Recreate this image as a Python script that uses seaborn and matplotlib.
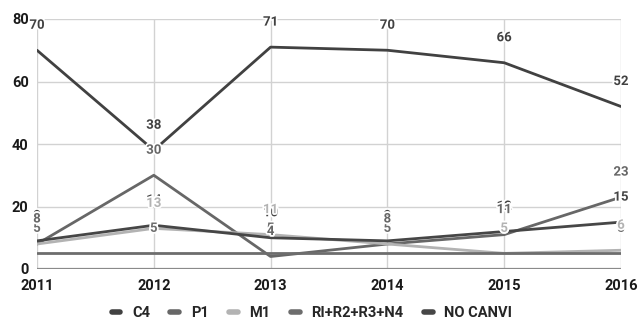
import matplotlib
matplotlib.use("Agg")
import matplotlib.pyplot as plt
from matplotlib.lines import Line2D
import matplotlib.patheffects as pe
import pandas as pd
import seaborn as sns

years = [2011, 2012, 2013, 2014, 2015, 2016]
series_names = ["C4", "P1", "M1", "RI+R2+R3+N4", "NO CANVI"]
c4 = [70, 38, 71, 70, 66, 52]
p1 = [8, 30, 4, 8, 11, 23]
m1 = [8, 13, 11, 8, 5, 6]
ri_r2_r3_n4 = [5, 5, 5, 5, 5, 5]
no_canvi = [9, 14, 10, 9, 12, 15]
y_ticks = [0, 20, 40, 60, 80]

colors = {
    "C4": "#414141",
    "P1": "#676767",
    "M1": "#b3b3b3",
    "RI+R2+R3+N4": "#6d6d6d",
    "NO CANVI": "#464646",
}

values = {
    "C4": c4,
    "P1": p1,
    "M1": m1,
    "RI+R2+R3+N4": ri_r2_r3_n4,
    "NO CANVI": no_canvi,
}
df = pd.DataFrame(
    [(y, name, v) for name in series_names for y, v in zip(years, values[name])],
    columns=["year", "serie", "value"],
)

sns.set_theme(style="white")
plt.rcParams["font.family"] = ["Roboto", "DejaVu Sans"]

fig = plt.figure(figsize=(6.41, 3.27), dpi=100)
ax = fig.add_axes([37 / 641, 1 - 269 / 327, (621 - 37) / 641, (269 - 19) / 327])

sns.lineplot(data=df, x="year", y="value", hue="serie", hue_order=series_names,
             palette=colors, linewidth=2, legend=False, ax=ax,
             sort=False, estimator=None, zorder=3)

# value labels above each point, with a white halo; the last series is drawn first
halo = [pe.withStroke(linewidth=2.5, foreground="white")]
for name in reversed(series_names):
    for y, v in zip(years, values[name]):
        ax.annotate(str(v), (y, v), xytext=(0, 18), textcoords="offset points",
                    ha="center", va="center", fontsize=9.5, fontweight="bold",
                    color=colors[name], zorder=4, annotation_clip=False,
                    path_effects=halo)

ax.set_xlim(years[0], years[-1])
ax.set_ylim(y_ticks[0], y_ticks[-1])
ax.set_xticks(years)
ax.set_yticks(y_ticks)
ax.set_xticklabels([str(y) for y in years], fontsize=10.5, fontweight="bold", color="#1a1a1a")
ax.set_yticklabels([str(t) for t in y_ticks], fontsize=10.5, fontweight="bold", color="#1a1a1a")
ax.tick_params(axis="both", length=0)
ax.tick_params(axis="x", pad=7)
ax.tick_params(axis="y", pad=6)
ax.set_xlabel("")
ax.set_ylabel("")
ax.grid(True, color="#d2d2d2", linewidth=1)
ax.axhline(0, color="#8a8a8a", linewidth=1.6, zorder=2)
for s in ax.spines.values():
    s.set_visible(False)

handles = [Line2D([0], [0], color=colors[n], linewidth=4, solid_capstyle="round")
           for n in series_names]
fig.legend(handles, series_names, loc="center", bbox_to_anchor=(312 / 641, 1 - 313 / 327),
           ncol=5, frameon=False, handlelength=0.6, handletextpad=0.8, columnspacing=1.4,
           prop={"weight": "bold", "size": 10.5})

fig.savefig("out.png", dpi=100)
